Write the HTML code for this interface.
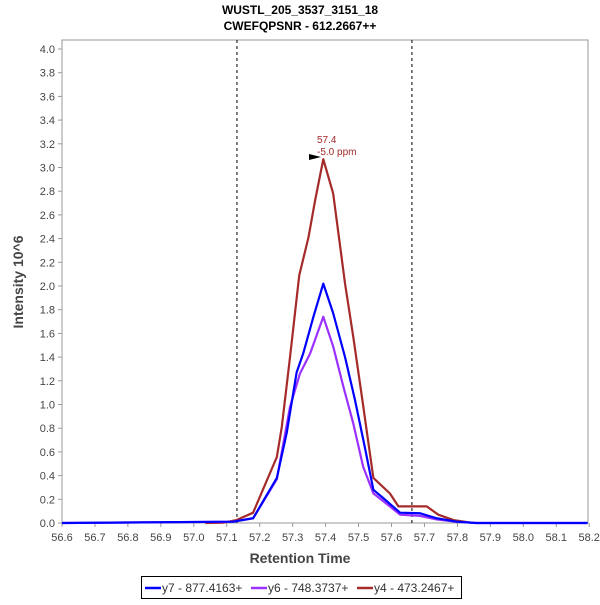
<!DOCTYPE html>
<html><head><meta charset="utf-8"><style>
body{margin:0;background:#fff;font-family:"Liberation Sans",sans-serif;}
</style></head><body>
<svg width="600" height="600" xmlns="http://www.w3.org/2000/svg" font-family="Liberation Sans, sans-serif">
<rect width="600" height="600" fill="#fff"/>
<text x="300" y="14" text-anchor="middle" font-size="12" font-weight="bold" fill="#000">WUSTL_205_3537_3151_18</text>
<text x="300" y="30" text-anchor="middle" font-size="12" font-weight="bold" fill="#000">CWEFQPSNR - 612.2667++</text>
<rect x="62" y="40" width="526" height="483" fill="#fff" stroke="#999"/>
<g id="yticks"></g>
<g id="xticks"></g>
<g id="vlines"></g>
<g id="series"></g>
<g>
<text x="317" y="143" font-size="10" fill="#a52a2a">57.4</text>
<text x="317" y="155" font-size="10" fill="#a52a2a">-5.0 ppm</text>
<polygon points="309,154 309,160 321,157" fill="#000"/>
</g>
<text x="300" y="563" text-anchor="middle" font-size="14" font-weight="bold" fill="#444">Retention Time</text>
<text transform="translate(23,282) rotate(-90)" text-anchor="middle" font-size="14" font-weight="bold" fill="#444">Intensity 10^6</text>
<g>
<rect x="141.5" y="576.5" width="320" height="22" fill="#fff" stroke="#000"/>
<g><line x1="145" y1="588" x2="161" y2="588" stroke="#0000ff" stroke-width="2.5"/><text x="162" y="592" font-size="12" fill="#333">y7 - 877.4163+</text></g>
<g><line x1="251" y1="588" x2="267" y2="588" stroke="#9b30ff" stroke-width="2.5"/><text x="268" y="592" font-size="12" fill="#333">y6 - 748.3737+</text></g>
<g><line x1="357" y1="588" x2="373" y2="588" stroke="#a52a2a" stroke-width="2.5"/><text x="374" y="592" font-size="12" fill="#333">y4 - 473.2467+</text></g>
</g>
</svg>
<script>
const xTicks=["56.6","56.7","56.8","56.9","57.0","57.1","57.2","57.3","57.4","57.5","57.6","57.7","57.8","57.9","58.0","58.1","58.2"];
const yTicks=["0.0","0.2","0.4","0.6","0.8","1.0","1.2","1.4","1.6","1.8","2.0","2.2","2.4","2.6","2.8","3.0","3.2","3.4","3.6","3.8","4.0"];
const boundaries=[57.131,57.662];
const y7Times=[56.6,57.119,57.18,57.252,57.282,57.312,57.332,57.363,57.393,57.423,57.459,57.489,57.519,57.545,57.575,57.626,57.687,57.737,57.798,57.858,58.195];
const y7Values=[0,0.011,0.04,0.38,0.76,1.27,1.43,1.74,2.02,1.77,1.40,1.04,0.64,0.28,0.21,0.087,0.082,0.04,0.011,0,0];
const y6Times=[56.6,57.119,57.18,57.252,57.292,57.322,57.353,57.393,57.423,57.454,57.484,57.514,57.545,57.595,57.626,57.687,57.737,57.798,57.858,58.195];
const y6Values=[0,0.011,0.04,0.37,0.98,1.26,1.43,1.74,1.49,1.15,0.84,0.475,0.25,0.14,0.07,0.06,0.03,0.01,0,0];
const y4Times=[57.035,57.089,57.13,57.18,57.252,57.267,57.292,57.32,57.348,57.368,57.393,57.423,57.459,57.484,57.513,57.545,57.595,57.621,57.707,57.742,57.788,57.847];
const y4Values=[0,0.003,0.025,0.087,0.557,0.81,1.40,2.09,2.41,2.72,3.07,2.78,2.02,1.57,1.01,0.38,0.25,0.14,0.14,0.07,0.025,0];
const NS="http://www.w3.org/2000/svg";
const X=v=>62+(v-56.6)*329.5, Y=v=>523-v*118.5;
function mk(tag,attrs,parent){const e=document.createElementNS(NS,tag);for(const k in attrs)e.setAttribute(k,attrs[k]);parent.appendChild(e);return e;}
const yg=document.getElementById('yticks');
yTicks.forEach(t=>{const y=Y(parseFloat(t));
 mk('line',{x1:58,x2:62,y1:y,y2:y,stroke:'#999'},yg);
 const tx=mk('text',{x:55,y:y+4,'text-anchor':'end','font-size':11,fill:'#444'},yg);tx.textContent=t;
 
 });
const xg=document.getElementById('xticks');
xTicks.forEach(t=>{const x=X(parseFloat(t));
 mk('line',{x1:x,x2:x,y1:523,y2:527,stroke:'#999'},xg);
 const tx=mk('text',{x:x,y:541,'text-anchor':'middle','font-size':11,fill:'#444'},xg);tx.textContent=t;
 
 });
const vg=document.getElementById('vlines');
boundaries.forEach(b=>{const l=mk('line',{x1:X(b),x2:X(b),y1:40,y2:523,stroke:'#000','stroke-dasharray':'3,3','stroke-width':1},vg);
 
 });
const sg=document.getElementById('series');
[[y4Times,y4Values,'#a52a2a','series-y4'],[y6Times,y6Values,'#9b30ff','series-y6'],[y7Times,y7Values,'#0000ff','series-y7']].forEach(([t,v,c,n])=>{
 const p=mk('polyline',{points:t.map((x,i)=>X(x)+','+Y(v[i])).join(' '),fill:'none',stroke:c,'stroke-width':2.2,'stroke-linejoin':'round'},sg);
 
 });
</script>
</body></html>
